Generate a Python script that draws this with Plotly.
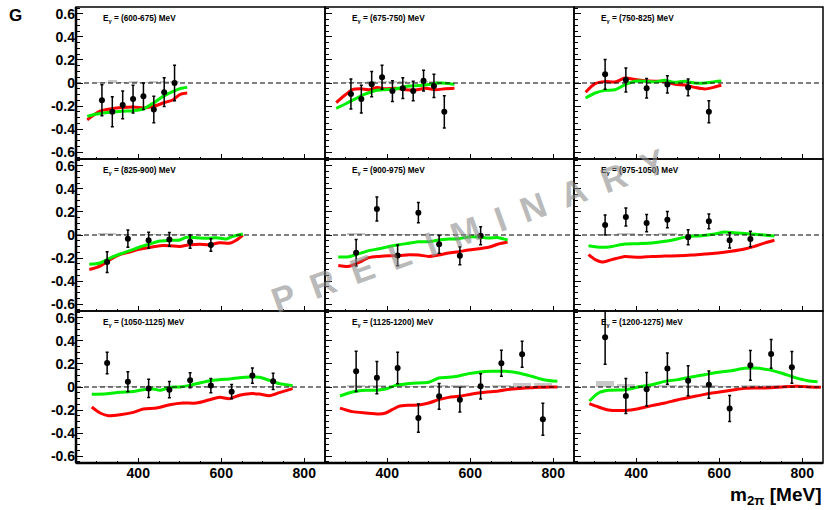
import plotly.graph_objects as go
from plotly.subplots import make_subplots

energy_bins = ["(600-675)", "(675-750)", "(750-825)", "(825-900)", "(900-975)",
               "(975-1050)", "(1050-1125)", "(1125-1200)", "(1200-1275)"]

y_tick_vals = [-0.6, -0.4, -0.2, 0, 0.2, 0.4, 0.6]
y_tick_text = ["-0.6", "-0.4", "-0.2", "0", "0.2", "0.4", "0.6"]
x_tick_vals = [400, 600, 800]
x_tick_text = ["400", "600", "800"]

# ---- panel 1 : E = 600-675 MeV
m1 = [312.5, 337.5, 362.5, 387.5, 412.5, 437.5, 462.5, 487.5]
G1 = [-0.15, -0.25, -0.19, -0.14, -0.115, -0.23, -0.08, 0.0]
E1 = [0.135, 0.13, 0.12, 0.12, 0.115, 0.115, 0.125, 0.155]
S1 = [0.005, 0.03, 0.005, 0.015, 0.005, 0.015, 0.01, 0.015]
green1_m = [277, 300, 332, 360, 388, 412, 436, 460, 484, 504, 518]
green1_G = [-0.29, -0.27, -0.255, -0.245, -0.24, -0.226, -0.175, -0.116, -0.072, -0.045, -0.038]
red1_m = [277, 308, 332, 388, 412, 436, 460, 484, 500, 518]
red1_G = [-0.32, -0.245, -0.226, -0.209, -0.217, -0.203, -0.174, -0.145, -0.1, -0.087]

# ---- panel 2 : E = 675-750 MeV
m2 = [312.5, 337.5, 362.5, 387.5, 412.5, 437.5, 462.5, 487.5, 512.5, 537.5]
G2 = [-0.096, -0.14, -0.01, 0.05, -0.07, -0.045, -0.07, 0.02, -0.025, -0.25]
E2 = [0.13, 0.12, 0.11, 0.105, 0.09, 0.09, 0.085, 0.09, 0.1, 0.14]
S2 = [0.005, 0.005, 0.02, 0.02, 0.015, 0.01, 0.005, 0.01, 0.01, 0.005]
green2_m = [277, 300, 324, 348, 372, 396, 420, 444, 468, 492, 516, 540, 562]
green2_G = [-0.22, -0.18, -0.135, -0.095, -0.065, -0.058, -0.052, -0.03, -0.023, -0.018, -0.003, -0.002, -0.012]
red2_m = [277, 300, 316, 336, 356, 376, 396, 420, 444, 468, 492, 516, 540, 562]
red2_G = [-0.17, -0.1, -0.058, -0.05, -0.058, -0.04, -0.05, -0.045, -0.058, -0.06, -0.046, -0.058, -0.05, -0.046]

# ---- panel 3 : E = 750-825 MeV
m3 = [325, 375, 425, 475, 525, 575]
G3 = [0.075, 0.026, -0.046, -0.012, -0.038, -0.25]
E3 = [0.13, 0.105, 0.085, 0.075, 0.072, 0.095]
S3 = [0.005, 0.005, 0.005, 0.005, 0.005, 0.005]
green3_m = [278, 301, 325, 349, 373, 397, 421, 445, 469, 493, 517, 541, 565, 589, 605]
green3_G = [-0.13, -0.087, -0.064, -0.058, -0.015, 0.015, 0.015, 0.009, 0.023, 0.006, 0.015, 0.0, 0.0, 0.012, 0.017]
red3_m = [278, 301, 325, 349, 373, 397, 421, 445, 469, 493, 517, 541, 565, 589, 605]
red3_G = [-0.08, -0.006, 0.012, 0.009, 0.043, 0.03, 0.02, 0.015, 0.015, -0.012, -0.017, -0.038, -0.052, -0.035, -0.02]

# ---- panel 4 : E = 825-900 MeV
m4 = [325, 375, 425, 475, 525, 575]
G4 = [-0.235, -0.032, -0.046, -0.038, -0.058, -0.087]
E4 = [0.09, 0.075, 0.07, 0.06, 0.058, 0.055]
S4 = [0.01, 0.005, 0.005, 0.005, 0.005, 0.005]
green4_m = [282, 308, 332, 356, 380, 404, 428, 452, 476, 500, 516, 540, 564, 588, 612, 628, 652]
green4_G = [-0.255, -0.243, -0.2, -0.165, -0.136, -0.104, -0.078, -0.052, -0.046, -0.043, -0.02, -0.023, -0.029, -0.023, -0.035, -0.012, 0.009]
red4_m = [282, 308, 332, 356, 380, 404, 428, 452, 476, 500, 524, 548, 572, 596, 620, 636, 652]
red4_G = [-0.3, -0.27, -0.214, -0.17, -0.148, -0.122, -0.107, -0.093, -0.093, -0.099, -0.084, -0.081, -0.084, -0.067, -0.072, -0.046, 0.0]

# ---- panel 5 : E = 900-975 MeV
m5 = [325, 375, 425, 475, 525, 575, 625]
G5 = [-0.154, 0.226, -0.177, 0.194, -0.081, -0.18, -0.006]
E5 = [0.115, 0.105, 0.09, 0.088, 0.077, 0.078, 0.078]
S5 = [0.01, 0.005, 0.005, 0.005, 0.005, 0.005, 0.005]
green5_m = [282, 308, 332, 356, 380, 404, 428, 452, 476, 500, 524, 548, 572, 596, 620, 644, 668, 690]
green5_G = [-0.19, -0.188, -0.162, -0.136, -0.119, -0.1, -0.084, -0.072, -0.058, -0.058, -0.043, -0.035, -0.032, -0.017, -0.017, -0.026, -0.023, -0.043]
red5_m = [282, 308, 332, 356, 380, 404, 428, 452, 476, 500, 524, 548, 572, 596, 620, 644, 668, 690]
red5_G = [-0.264, -0.272, -0.238, -0.197, -0.186, -0.18, -0.18, -0.171, -0.174, -0.186, -0.174, -0.157, -0.145, -0.13, -0.119, -0.107, -0.078, -0.061]

# ---- panel 6 : E = 975-1050 MeV
m6 = [325, 375, 425, 475, 525, 575, 625, 675]
G6 = [0.087, 0.157, 0.104, 0.133, -0.02, 0.119, -0.046, -0.035]
E6 = [0.087, 0.078, 0.075, 0.07, 0.065, 0.064, 0.066, 0.068]
S6 = [0.005, 0.012, 0.005, 0.012, 0.005, 0.005, 0.005, 0.005]
green6_m = [285, 317, 341, 373, 405, 437, 469, 501, 525, 557, 589, 613, 645, 677, 709, 733]
green6_G = [-0.093, -0.107, -0.099, -0.078, -0.075, -0.07, -0.055, -0.032, -0.012, -0.006, 0.009, 0.026, 0.017, 0.009, 0.0, -0.009]
red6_m = [285, 301, 317, 341, 373, 405, 437, 469, 501, 533, 565, 597, 629, 661, 685, 709, 733]
red6_G = [-0.171, -0.214, -0.235, -0.214, -0.186, -0.194, -0.186, -0.183, -0.18, -0.174, -0.165, -0.157, -0.142, -0.122, -0.099, -0.07, -0.046]

# ---- panel 7 : E = 1050-1125 MeV
m7 = [325, 375, 425, 475, 525, 575, 625, 675, 725]
G7 = [0.209, 0.046, -0.012, -0.023, 0.058, 0.012, -0.041, 0.099, 0.049]
E7 = [0.093, 0.087, 0.08, 0.07, 0.065, 0.062, 0.062, 0.067, 0.071]
S7 = [0.005, 0.005, 0.005, 0.005, 0.005, 0.005, 0.005, 0.005, 0.005]
green7_m = [288, 324, 356, 388, 412, 436, 452, 476, 500, 524, 548, 572, 596, 620, 644, 668, 692, 716, 740, 772]
green7_G = [-0.064, -0.058, -0.046, -0.04, -0.023, -0.017, -0.029, -0.003, 0.0, 0.014, 0.035, 0.055, 0.064, 0.07, 0.081, 0.087, 0.084, 0.058, 0.029, 0.012]
red7_m = [288, 308, 328, 356, 388, 412, 444, 476, 508, 540, 572, 596, 620, 644, 668, 692, 716, 740, 772]
red7_G = [-0.174, -0.226, -0.249, -0.241, -0.22, -0.191, -0.183, -0.154, -0.139, -0.139, -0.11, -0.09, -0.101, -0.072, -0.058, -0.061, -0.075, -0.049, -0.014]

# ---- panel 8 : E = 1125-1200 MeV
m8 = [325, 375, 425, 475, 525, 575, 625, 675, 725, 775]
G8 = [0.136, 0.081, 0.165, -0.27, -0.081, -0.11, 0.006, 0.206, 0.284, -0.28]
E8 = [0.175, 0.14, 0.136, 0.123, 0.112, 0.107, 0.11, 0.113, 0.113, 0.138]
S8 = [0.02, 0.02, 0.02, 0.005, 0.02, 0.02, 0.005, 0.02, 0.035, 0.035]
green8_m = [286, 316, 348, 380, 396, 420, 444, 476, 500, 524, 548, 572, 596, 620, 652, 684, 716, 748, 780, 810]
green8_G = [-0.078, -0.043, -0.029, -0.026, -0.017, 0.014, 0.026, 0.035, 0.041, 0.078, 0.084, 0.096, 0.116, 0.128, 0.136, 0.136, 0.122, 0.093, 0.061, 0.049]
red8_m = [286, 316, 348, 380, 396, 412, 428, 452, 476, 500, 524, 548, 572, 604, 636, 668, 700, 732, 764, 796, 810]
red8_G = [-0.183, -0.214, -0.226, -0.235, -0.226, -0.197, -0.168, -0.159, -0.157, -0.139, -0.11, -0.09, -0.081, -0.061, -0.046, -0.035, -0.017, -0.009, -0.003, 0.0, 0.0]

# ---- panel 9 : E = 1200-1275 MeV
m9 = [325, 375, 425, 475, 525, 575, 625, 675, 725, 775]
G9 = [0.432, -0.078, -0.02, 0.16, 0.055, 0.02, -0.186, 0.188, 0.287, 0.171]
E9 = [0.235, 0.152, 0.146, 0.136, 0.13, 0.118, 0.113, 0.13, 0.125, 0.138]
S9 = [0.05, 0.03, 0.01, 0.01, 0.01, 0.01, 0.005, 0.01, 0.02, 0.01]
green9_m = [287, 309, 333, 373, 405, 437, 469, 501, 533, 565, 597, 629, 661, 685, 717, 749, 781, 813, 837]
green9_G = [-0.122, -0.052, -0.029, -0.023, 0.0, 0.02, 0.049, 0.064, 0.087, 0.107, 0.128, 0.142, 0.162, 0.165, 0.151, 0.122, 0.084, 0.055, 0.046]
red9_m = [287, 309, 333, 373, 405, 437, 469, 501, 533, 565, 597, 629, 661, 693, 725, 757, 789, 821, 845]
red9_G = [-0.145, -0.174, -0.2, -0.203, -0.188, -0.162, -0.139, -0.11, -0.087, -0.064, -0.046, -0.029, -0.012, -0.009, -0.006, 0.003, 0.006, 0.0, -0.003]

bin_widths = [25, 25, 50, 50, 50, 50, 50, 50, 50]

panels = [
    (m1, G1, E1, S1, green1_m, green1_G, red1_m, red1_G),
    (m2, G2, E2, S2, green2_m, green2_G, red2_m, red2_G),
    (m3, G3, E3, S3, green3_m, green3_G, red3_m, red3_G),
    (m4, G4, E4, S4, green4_m, green4_G, red4_m, red4_G),
    (m5, G5, E5, S5, green5_m, green5_G, red5_m, red5_G),
    (m6, G6, E6, S6, green6_m, green6_G, red6_m, red6_G),
    (m7, G7, E7, S7, green7_m, green7_G, red7_m, red7_G),
    (m8, G8, E8, S8, green8_m, green8_G, red8_m, red8_G),
    (m9, G9, E9, S9, green9_m, green9_G, red9_m, red9_G),
]

FONT = "Liberation Sans, Arial, Helvetica, sans-serif"
ML, MR, MT, MB = 76, 2, 7, 47
W, H = 825, 510
PW, PH = W - ML - MR, H - MT - MB

fig = make_subplots(rows=3, cols=3, horizontal_spacing=0, vertical_spacing=0)

for i, (m, G, E, S, gm, gG, rm, rG) in enumerate(panels):
    r, c = i // 3 + 1, i % 3 + 1
    fig.add_trace(go.Bar(x=m, y=S, width=[bin_widths[i] * 0.88] * len(m),
                         marker=dict(color="#c8c8c8", line=dict(width=0)),
                         showlegend=False, hoverinfo="skip"), row=r, col=c)
    fig.add_trace(go.Scatter(x=rm, y=rG, mode="lines",
                             line=dict(color="#ff0000", width=3, shape="spline", smoothing=0.7),
                             showlegend=False), row=r, col=c)
    fig.add_trace(go.Scatter(x=gm, y=gG, mode="lines",
                             line=dict(color="#00f000", width=3, shape="spline", smoothing=0.7),
                             showlegend=False), row=r, col=c)
    fig.add_trace(go.Scatter(x=m, y=G, mode="markers",
                             marker=dict(color="black", size=6, symbol="circle"),
                             error_y=dict(type="data", array=E, color="black", thickness=1.5, width=1.5),
                             showlegend=False), row=r, col=c)

    axn = "" if i == 0 else str(i + 1)
    fig.add_shape(type="line", xref=f"x{axn} domain", yref=f"y{axn}",
                  x0=0, x1=1, y0=0, y1=0,
                  line=dict(color="black", width=1.2, dash="5px,3px"))
    # panel frame
    fig.add_shape(type="rect", xref=f"x{axn} domain", yref=f"y{axn} domain",
                  x0=0, x1=1, y0=0, y1=1, layer="above",
                  line=dict(color="black", width=1.5))
    if c == 1:
        fig.add_shape(type="line", xref=f"x{axn} domain", yref=f"y{axn} domain",
                      x0=0, x1=0, y0=0, y1=1, layer="above",
                      line=dict(color="black", width=2.5))
    if r == 3:
        fig.add_shape(type="line", xref=f"x{axn} domain", yref=f"y{axn} domain",
                      x0=0, x1=1, y0=0, y1=0, layer="above",
                      line=dict(color="black", width=2.5))
    fig.add_annotation(xref=f"x{axn} domain", yref=f"y{axn} domain", x=0.1, y=0.92,
                       xanchor="left", yanchor="middle", showarrow=False,
                       text=f"E<sub>γ</sub> = {energy_bins[i]} MeV",
                       font=dict(family=FONT, size=8.2, color="black", weight="bold"))

    fig.update_xaxes(range=[250, 850], tickmode="array", tickvals=x_tick_vals, ticktext=x_tick_text,
                     ticks="inside", ticklen=5, tickwidth=1, tickcolor="black",
                     minor=dict(tickmode="linear", tick0=0, dtick=50, ticks="inside", ticklen=2.5,
                                tickwidth=1, tickcolor="black"),
                     showline=False, automargin=False,
                     showgrid=False, zeroline=False, showticklabels=(r == 3),
                     tickfont=dict(family=FONT, size=14, color="black", weight="bold"),
                     row=r, col=c)
    fig.update_yaxes(range=[-0.66, 0.66], tickmode="array", tickvals=y_tick_vals, ticktext=y_tick_text,
                     ticks="inside", ticklen=7, tickwidth=1, tickcolor="black",
                     minor=dict(tickmode="linear", tick0=0, dtick=0.05, ticks="inside", ticklen=4,
                                tickwidth=1, tickcolor="black"),
                     showline=False, automargin=False,
                     showgrid=False, zeroline=False, showticklabels=(c == 1),
                     tickfont=dict(family=FONT, size=14, color="black", weight="bold"),
                     row=r, col=c)

# watermark
fig.add_annotation(xref="paper", yref="paper", x=(468 - ML) / PW, y=(H - MB - 230) / PH,
                   xanchor="center", yanchor="middle",
                   showarrow=False, textangle=-20,
                   text="P\u2002R\u2002E\u2002L\u2002I\u2002M\u2002I\u2002N\u2002A\u2002R\u2002Y",
                   font=dict(family=FONT, size=35, color="rgba(140,140,140,0.6)", weight="bold"))

# y title "G"
fig.add_annotation(xref="paper", yref="paper", x=(15 - ML) / PW, y=(H - MB - 15) / PH,
                   xanchor="center", yanchor="middle", showarrow=False, text="G",
                   font=dict(family=FONT, size=17, color="black", weight="bold"))

# x title
fig.add_annotation(xref="paper", yref="paper", x=(823 - ML) / PW, y=(H - MB - 496) / PH,
                   xanchor="right", yanchor="middle", showarrow=False,
                   text="m<sub>2π</sub> [MeV]",
                   font=dict(family=FONT, size=19, color="black", weight="bold"))

fig.update_layout(width=W, height=H, margin=dict(l=ML, r=MR, t=MT, b=MB, autoexpand=False),
                  paper_bgcolor="white", plot_bgcolor="white", bargap=0, barmode="overlay",
                  font=dict(family=FONT, color="black"))

fig.write_html("out.html", config={"displayModeBar": False},
               post_script="document.body.style.margin='0';document.body.style.overflow='hidden';")
